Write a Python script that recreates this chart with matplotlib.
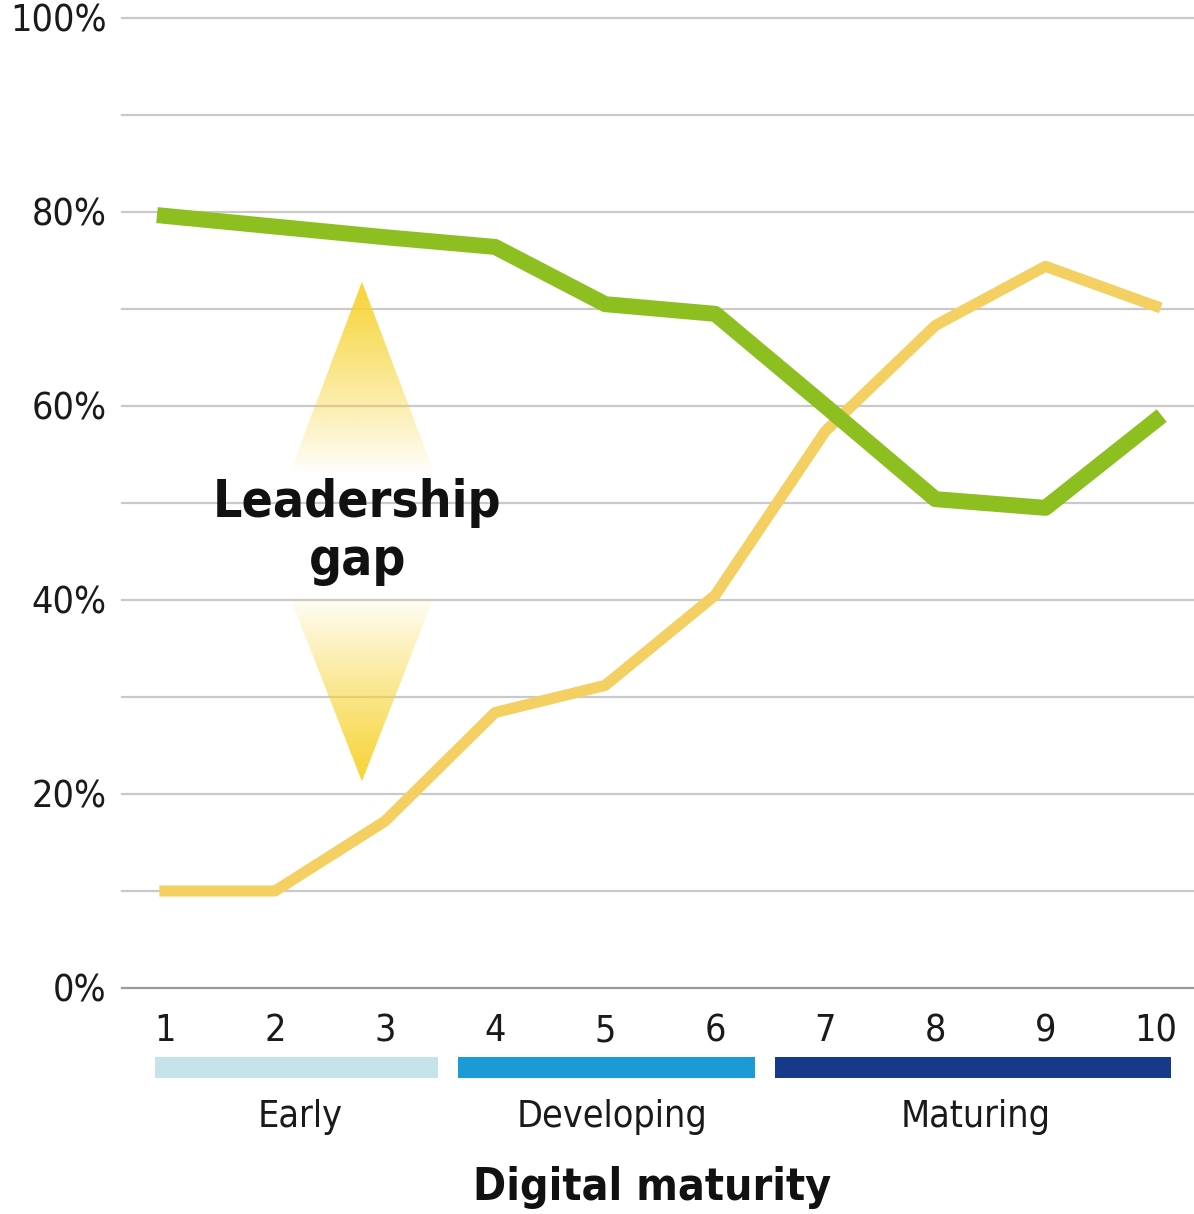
import matplotlib
matplotlib.use("Agg")
import matplotlib.pyplot as plt
import numpy as np
from matplotlib.patches import Polygon

plt.rcParams['font.family'] = ['DejaVu Sans']
plt.rcParams['font.stretch'] = 'condensed'

# data
stages = [1, 2, 3, 4, 5, 6, 7, 8, 9, 10]
green_vals = [79.6, 78.5, 77.4, 76.4, 70.5, 69.5, 60.0, 50.4, 49.5, 58.5]
yellow_vals = [10.0, 10.0, 17.2, 28.4, 31.2, 40.5, 57.4, 68.3, 74.4, 70.3]
groups = ['Early', 'Developing', 'Maturing']
group_first = [1, 4, 7]
group_last = [3, 6, 10]
group_colors = ['#c4e4ea', '#1b9bd5', '#17398a']

fig = plt.figure(figsize=(11.94, 12.14), dpi=100)
ax = fig.add_axes([122/1194, 226/1214, 1072/1194, 970/1214])
ax.set_xlim(0.61, 10.35)
ax.set_ylim(0, 100)

# grid
for v in range(0, 101, 10):
    ax.axhline(v, color='#9a9a9a' if v == 0 else '#c9c9c9', lw=1.6, zorder=1, clip_on=False)
ax.set_yticks(range(0, 101, 20))
ax.set_yticklabels(['%d%%' % v for v in range(0, 101, 20)], fontsize=27, color='#1a1a1a')
ax.set_xticks(stages)
ax.set_xticklabels([str(s) for s in stages], fontsize=27, color='#1a1a1a')
ax.tick_params(axis='y', length=0, pad=11)
ax.tick_params(axis='x', length=0, pad=18)
for s in ax.spines.values():
    s.set_visible(False)

# gap arrows with fading fill
def fade_triangle(tip, base, halfw, xc):
    n = 200
    lo, hi = min(tip, base), max(tip, base)
    ys = np.linspace(0, 1, n)
    if tip > base:
        a = ys ** 0.9
    else:
        a = (1 - ys) ** 0.9
    img = np.zeros((n, 1, 4))
    img[:, 0, 0] = 0.97
    img[:, 0, 1] = 0.83
    img[:, 0, 2] = 0.2
    img[:, 0, 3] = a
    im = ax.imshow(img, extent=[xc - halfw, xc + halfw, lo, hi], origin='lower',
                   aspect='auto', zorder=2, interpolation='bilinear')
    poly = Polygon([[xc, tip], [xc - halfw, base], [xc + halfw, base]],
                   closed=True, facecolor='none', edgecolor='none', transform=ax.transData)
    ax.add_patch(poly)
    im.set_clip_path(poly)

fade_triangle(72.8, 53.0, 0.66, 2.79)
fade_triangle(21.3, 40.5, 0.66, 2.79)
ax.set_xlim(0.61, 10.35)
ax.set_ylim(0, 100)

ax.plot(stages, yellow_vals, color='#f4d062', lw=8, solid_joinstyle='round', zorder=3, clip_on=False)
ax.plot(stages, green_vals, color='#8cbf1f', lw=11.5, solid_joinstyle='round', zorder=4, clip_on=False)

ax.text(2.75, 47.0, 'Leadership\ngap', ha='center', va='center', fontsize=37,
        fontweight='bold', linespacing=1.2, color='#111111', zorder=5)

# maturity bands
starts = [0.91, 3.66, 6.545]
ends = [3.48, 6.36, 10.14]
ax.barh([-8.2] * 3, [e - s for s, e in zip(starts, ends)], left=starts, height=2.2,
        color=group_colors, clip_on=False, zorder=3)
label_x = [2.23, 5.06, 8.37]
for g, lx in zip(groups, label_x):
    ax.text(lx, -13.3, g, ha='center', va='center', fontsize=27, color='#1a1a1a', clip_on=False)
ax.text(5.43, -20.6, 'Digital maturity', ha='center', va='center', fontsize=32,
        fontweight='bold', color='#111111', clip_on=False)

fig.savefig('out.png', dpi=100, facecolor='white')
